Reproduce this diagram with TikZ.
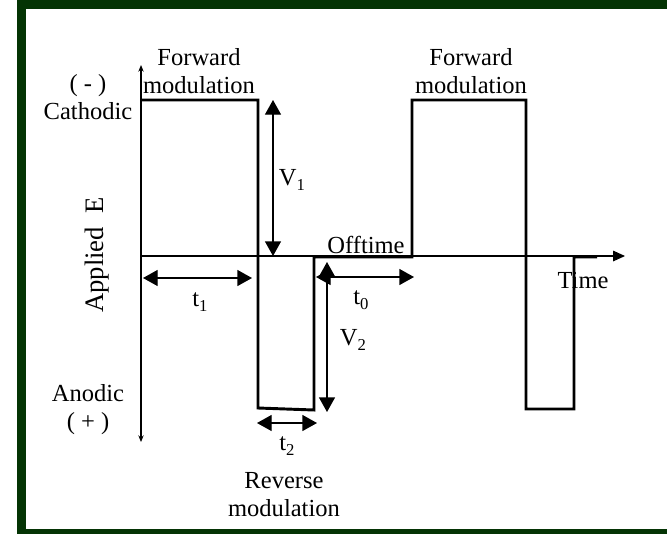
\documentclass[tikz,border=0pt]{standalone}
\usepackage{fontspec}
\setmainfont{Liberation Serif}
\usetikzlibrary{arrows.meta}
\definecolor{frameGreen}{RGB}{4,52,4}
\newcommand{\subLbl}[2]{#1\raisebox{-0.5ex}{\fontsize{12.5}{13}\selectfont #2}}

\begin{document}
\begin{tikzpicture}[x=0.75pt,y=-0.75pt,
  lbl/.style={font=\fontsize{18.4}{21}\selectfont,align=center,inner sep=0pt},
  wave/.style={line width=2.2pt,line join=miter},
  axisline/.style={line width=0.8pt},
  dimarrow/.style={line width=1pt,{Triangle[length=11pt,width=12pt]}-{Triangle[length=11pt,width=12pt]}}]

\useasboundingbox (0,0) rectangle (667,533);
\clip (0,0) rectangle (667,533);
\draw[frameGreen,line width=6.75pt] (21.5,4.5) rectangle (690,533.5);

% axes
\coordinate (ytop) at (141,65);
\coordinate (ybot) at (141,442);
\coordinate (xorg) at (141,256);
\coordinate (xend) at (625,256);
\draw[axisline,{Stealth[length=5pt,width=4pt]}-{Stealth[length=5pt,width=4pt]}] (ytop) -- (ybot);
\draw[axisline,-{Triangle[length=9pt,width=8pt]}] (xorg) -- (xend);

% waveform
\draw[wave] (141,100) -- (258,100) -- (258,408) -- (314,410) -- (314,257) -- (412,257)
  -- (412,100) -- (526,100) -- (526,409) -- (574,409) -- (574,257) -- (597,257);

% dimension arrows
\coordinate (v1a) at (273,100);
\coordinate (v1b) at (273,256);
\coordinate (v2a) at (327,262);
\coordinate (v2b) at (327,412);
\coordinate (t1a) at (143,278);
\coordinate (t1b) at (252,278);
\coordinate (t0a) at (316,277);
\coordinate (t0b) at (414,277);
\coordinate (t2a) at (257,423);
\coordinate (t2b) at (317,423);
\draw[dimarrow] (v1a) -- (v1b);
\draw[dimarrow] (v2a) -- (v2b);
\draw[dimarrow] (t1a) -- (t1b);
\draw[dimarrow] (t0a) -- (t0b);
\draw[dimarrow] (t2a) -- (t2b);

% labels
\node[lbl] (fwdleft) at (199,71) {Forward\\modulation};
\node[lbl] (fwdright) at (471,71) {Forward\\modulation};
\node[lbl] (cathodic) at (88,97) {( - )\\Cathodic};
\node[lbl] (anodic) at (88,410) {Anodic\\( + )};
\node[lbl] (reverse) at (284,495) {Reverse\\modulation};
\node[lbl,rotate=90,font=\fontsize{20}{24}\selectfont] (applied) at (97,255) {Applied~~E};
\node[lbl] (offtime) at (366,245) {Offtime};
\node[lbl] (time) at (583,280) {Time};
\node[lbl] (v1lbl) at (292,180) {\subLbl{V}{1}};
\node[lbl] (v2lbl) at (353,340) {\subLbl{V}{2}};
\node[lbl] (t1lbl) at (200,302) {\subLbl{t}{1}};
\node[lbl] (t0lbl) at (361,300) {\subLbl{t}{0}};
\node[lbl] (t2lbl) at (287,446) {\subLbl{t}{2}};

\end{tikzpicture}
\end{document}
